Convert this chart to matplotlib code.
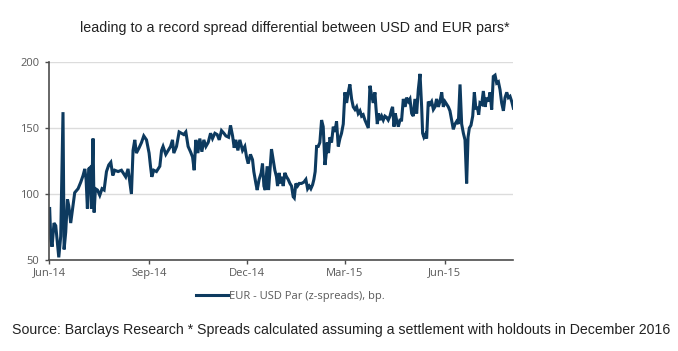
import matplotlib
matplotlib.use("Agg")
import matplotlib.pyplot as plt
import matplotlib.dates as mdates
import pandas as pd

# days after 1 Jun 2014
day_offsets = [
    0.6, 1.6, 2.8, 4.6, 6.2, 7.7, 9.0, 10.8, 12.9, 13.9, 15.4, 17.0, 18.2, 20.0,
    21.9, 23.7, 26.8, 29.3, 31.4, 33.0, 34.2, 35.4, 36.6, 37.9, 39.1, 40.6, 41.6,
    42.8, 44.7, 46.8, 48.9, 50.8, 53.0, 55.1, 57.0, 58.8, 60.6, 63.7, 66.8, 70.7,
    72.9, 76.0, 77.5, 79.1, 80.6, 83.1, 85.3, 87.4, 89.9, 92.3, 93.6, 94.8, 96.6,
    99.1, 102.2, 103.8, 105.2, 107.7, 109.9, 112.1, 113.9, 115.1, 117.6, 120.0,
    122.2, 124.3, 126.2, 128.3, 130.5, 132.4, 133.9, 135.4, 137.3, 139.1, 141.0,
    142.8, 144.7, 146.8, 149.0, 150.8, 153.0, 155.1, 157.0, 159.1, 161.3, 163.1,
    165.6, 167.4, 169.3, 170.8, 172.3, 174.2, 176.0, 178.5, 180.6, 182.2, 183.7,
    185.8, 187.7, 188.9, 190.8, 192.0, 193.8, 195.7, 196.9, 198.2, 199.4, 201.2,
    202.5, 205.2, 206.8, 208.3, 209.8, 210.8, 212.3, 213.5, 214.8, 216.0, 217.5,
    219.1, 220.6, 222.2, 223.7, 225.2, 226.2, 227.7, 229.2, 230.8, 232.9, 235.1,
    236.9, 238.5, 240.0, 241.5, 243.1, 244.3, 245.5, 246.8, 248.3, 249.8, 251.4,
    252.9, 254.5, 255.4, 256.6, 257.8, 259.1, 260.6, 262.2, 263.7, 265.2, 266.8,
    268.3, 269.8, 271.4, 272.9, 274.5, 276.0, 277.5, 279.1, 280.6, 282.2, 283.7,
    285.2, 286.8, 288.3, 289.8, 291.4, 292.9, 294.5, 296.0, 297.5, 299.1, 300.6,
    301.5, 302.8, 304.0, 305.2, 306.8, 308.3, 309.8, 311.4, 312.9, 314.5, 316.0,
    316.9, 318.2, 319.4, 320.6, 322.2, 323.7, 325.2, 326.8, 328.3, 329.8, 331.4,
    332.9, 334.5, 336.0, 337.5, 339.1, 340.6, 342.2, 343.7, 344.6, 345.8, 347.1,
    348.3, 349.8, 351.4, 352.9, 354.5, 356.0, 357.5, 359.1, 360.6, 362.2, 363.7,
    365.2, 366.8, 368.3, 369.8, 371.4, 372.9, 374.5, 376.0, 377.5, 379.1, 380.6,
    382.2, 383.7, 385.2, 386.5, 387.7, 389.2, 390.8, 392.3, 393.8, 395.1, 396.3,
    397.5, 399.1, 400.6, 402.2, 403.7, 405.2, 406.8, 408.3, 409.8, 411.4, 412.9,
    414.5, 416.0, 417.5, 419.1, 420.6, 422.2, 423.7, 425.2, 426.8, 428.3,
]

spread_bp = [
    89, 66, 60, 78, 76, 63, 52, 68, 162, 58, 71, 96, 91, 78,
    90, 101, 104, 109, 114, 119, 111, 89, 119, 120, 89, 142, 86,
    104, 103, 99, 104, 103, 117, 122, 124, 114, 118, 117, 118, 113,
    119, 100, 133, 141, 131, 135, 139, 144, 141, 131, 121, 113, 118,
    117, 121, 133, 136, 130, 133, 136, 141, 131, 136, 147,
    146, 145, 147, 136, 132, 128, 118, 141, 131, 142, 132,
    141, 136, 139, 146, 142, 146, 145, 141, 148, 146, 144,
    143, 152, 144, 135, 141, 133, 141, 133, 136, 128, 123,
    130, 126, 117, 108, 103, 111, 116, 123, 106, 103, 121,
    103, 134, 126, 118, 113, 106, 116, 108, 113, 106, 116,
    113, 111, 108, 106, 98, 97, 108, 106, 108, 108, 109,
    111, 104, 106, 104, 107, 111, 117, 136, 136, 139, 156,
    151, 122, 128, 139, 131, 143, 139, 151, 147, 155, 136,
    142, 146, 153, 177, 169, 177, 183, 172, 166, 164, 166,
    161, 163, 159, 160, 156, 153, 150, 182, 175, 169, 177,
    166, 153, 161, 156, 159, 156, 159, 158, 156, 159, 164,
    166, 151, 161, 156, 151, 156, 156, 172, 166, 173, 170,
    172, 161, 159, 172, 161, 179, 191, 166, 146, 143, 145,
    142, 170, 168, 170, 164, 166, 172, 166, 170, 177, 166,
    170, 168, 166, 163, 156, 149, 153, 155, 153, 183, 153,
    146, 141, 108, 143, 150, 152, 159, 177, 164, 166, 160,
    169, 168, 178, 166, 173, 170, 177, 164, 189, 190, 184,
    185, 179, 169, 163, 173, 177, 173, 174, 170, 165,
]

tick_dates = ["2014-06-01", "2014-09-01", "2014-12-01", "2015-03-01", "2015-06-01"]
y_ticks = [50, 100, 150, 200]

title = "leading to a record spread differential between USD and EUR pars*"
series_label = "EUR - USD Par (z-spreads), bp."
source_note = ("Source: Barclays Research * Spreads calculated assuming a settlement "
               "with holdouts in December 2016")

start = pd.Timestamp("2014-06-01")
dates = start + pd.to_timedelta(day_offsets, unit="D")

navy = "#0d3a5f"
axis_grey = "#4d4d4d"
label_grey = "#595959"

fig = plt.figure(figsize=(6.78, 3.51), dpi=100)
ax = fig.add_axes([0.0723, 0.2593, 0.6844, 0.5641])

ax.plot(dates, spread_bp, color=navy, linewidth=2.2, label=series_label,
        solid_joinstyle="miter")

ax.set_ylim(50, 200)
ax.set_xlim(start, pd.Timestamp("2015-08-03"))
ax.set_yticks(y_ticks)
ax.set_xticks(pd.to_datetime(tick_dates))
ax.xaxis.set_major_formatter(mdates.DateFormatter("%b-%y"))

ax.grid(axis="y", color="#dcdcdc", linewidth=1.0)
ax.set_axisbelow(True)
for side in ("top", "right"):
    ax.spines[side].set_visible(False)
for side in ("left", "bottom"):
    ax.spines[side].set_color(axis_grey)
    ax.spines[side].set_linewidth(1.2)

ax.tick_params(axis="both", colors=axis_grey, labelcolor=label_grey,
               labelsize=8, length=3, width=1.0, direction="out")
ax.tick_params(axis="y", pad=4)
ax.tick_params(axis="x", pad=2.5)
for lbl in ax.get_xticklabels() + ax.get_yticklabels():
    lbl.set_fontfamily("Open Sans")

handles, labels = ax.get_legend_handles_labels()
leg = fig.legend(handles, labels, loc="center left",
                 bbox_to_anchor=(196 / 678, 1 - 296 / 351),
                 frameon=False, borderpad=0, borderaxespad=0,
                 handlelength=2.9, handletextpad=0.05,
                 prop={"family": "Open Sans", "size": 8})
for txt in leg.get_texts():
    txt.set_color(label_grey)

fig.text(0.435, 0.92, title, ha="center", va="center",
         fontsize=10.25, family="Liberation Sans", color="#222222")
fig.text(0.017, 0.06, source_note, ha="left", va="center",
         fontsize=10.2, family="Liberation Sans", color="#222222")

fig.savefig("out.png", dpi=100)
